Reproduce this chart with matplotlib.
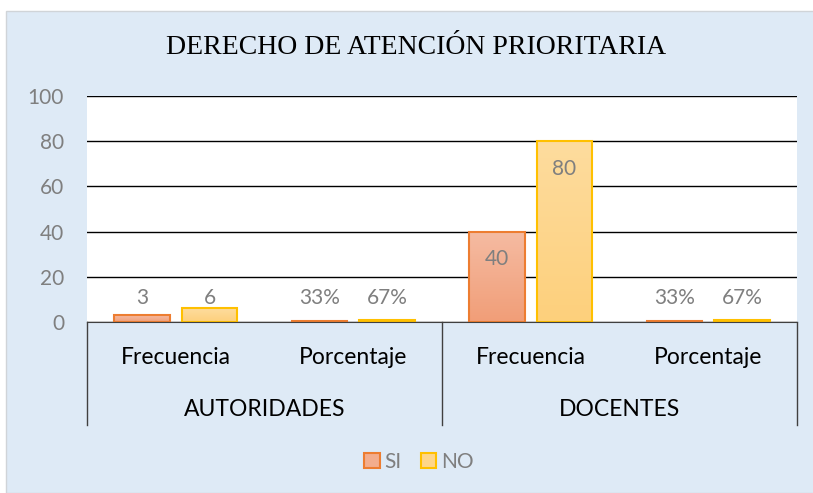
import numpy as np
import matplotlib.pyplot as plt
from matplotlib.patches import Rectangle, Patch
from matplotlib.colors import LinearSegmentedColormap

# datos
grupos = ["AUTORIDADES", "DOCENTES"]
subcats = ["Frecuencia", "Porcentaje", "Frecuencia", "Porcentaje"]
si_vals = [3, 0.33, 40, 0.33]
no_vals = [6, 0.67, 80, 0.67]
si_labels = ["3", "33%", "40", "33%"]
no_labels = ["6", "67%", "80", "67%"]
yticks = [0, 20, 40, 60, 80, 100]

bg = "#DEEAF6"
gris = "#7F7F7F"
fuente = "Lato"

fig = plt.figure(figsize=(8.13, 4.93), dpi=100)
fig.patch.set_facecolor("white")
fig.patches.append(Rectangle((6/813, 0), 1, 1 - 11/493, transform=fig.transFigure,
                             facecolor=bg, edgecolor="#D0D4D8", lw=1, zorder=-1))

ax = fig.add_axes([87/813, 1 - 322/493, 710/813, 226/493])
ax.set_facecolor("white")
x = np.arange(len(subcats))
w = 0.315
off = 0.19
b1 = ax.bar(x - off, si_vals, w, color="#F3AD8D", edgecolor="#ED7D31", lw=1.5, zorder=3)
b2 = ax.bar(x + off, no_vals, w, color="#FED68A", edgecolor="#FFC000", lw=1.5, zorder=3)

# degradado vertical dentro de las barras
grad = np.linspace(0, 1, 64).reshape(-1, 1)
cm_si = LinearSegmentedColormap.from_list("si", ["#F19E78", "#F5BBA2"])
cm_no = LinearSegmentedColormap.from_list("no", ["#FDD07C", "#FEDC9E"])
for bars, cmap in [(b1, cm_si), (b2, cm_no)]:
    for r in bars:
        x0, y0 = r.get_x(), r.get_y()
        im = ax.imshow(grad, cmap=cmap, aspect="auto", origin="lower", zorder=3.5,
                       extent=[x0, x0 + r.get_width(), y0, y0 + r.get_height()])
        im.set_clip_path(r)
        r.set_facecolor("none")
        r.set_zorder(4)
ax.set_xlim(-0.5, 3.5)
ax.set_ylim(0, 100)

ax.set_yticks(yticks)
ax.yaxis.grid(True, color="black", lw=1)
ax.set_axisbelow(True)
for s in ["top", "right", "left"]:
    ax.spines[s].set_visible(False)
ax.spines["bottom"].set_color("#404040")
ax.spines["bottom"].set_zorder(5)
ax.tick_params(axis="y", length=0, pad=16.5, labelsize=15, labelcolor=gris)
ax.tick_params(axis="x", length=0, labelbottom=False)
for t in ax.get_yticklabels():
    t.set_fontfamily(fuente)

# etiquetas de datos
for bars, labs in [(b1, si_labels), (b2, no_labels)]:
    for r, lab in zip(bars, labs):
        h = r.get_height()
        cx = r.get_x() + r.get_width() / 2
        if h > 20:
            ax.annotate(lab, (cx, h), xytext=(0, -20), textcoords="offset points",
                        ha="center", va="center", fontsize=15, color=gris, family=fuente, zorder=6)
        else:
            ax.annotate(lab, (cx, 0), xytext=(0, 17), textcoords="offset points",
                        ha="center", va="center", fontsize=15, color=gris, family=fuente, zorder=6)

# eje de categorias en dos niveles
tr = ax.transAxes
for xv in [0, 0.5, 1]:
    ax.plot([xv, xv], [0, -103/226], transform=tr, color="#404040", lw=1, clip_on=False)
for i, s in enumerate(subcats):
    ax.text(i, -35/226, s, transform=ax.get_xaxis_transform(), ha="center", va="center",
            fontsize=16.5, family=fuente, color="black")
for j, g in enumerate(grupos):
    ax.text(0.25 + 0.5 * j, -87/226, g, transform=tr, ha="center", va="center",
            fontsize=16.5, family=fuente, color="black")

fig.text(416/813, 1 - 48/493, "DERECHO DE ATENCIÓN PRIORITARIA", ha="center", va="center",
         fontsize=20, family="Liberation Serif", color="black")

handles = [Patch(facecolor="#F3AD8D", edgecolor="#ED7D31", lw=1.5, label="SI"),
           Patch(facecolor="#FED68A", edgecolor="#FFC000", lw=1.5, label="NO")]
leg = fig.legend(handles=handles, loc="center", bbox_to_anchor=(419/813, 1 - 462/493), ncol=2,
                 frameon=False, handlelength=0.75, handleheight=0.75,
                 handletextpad=0.25, columnspacing=0.9, labelcolor=gris,
                 prop={"family": fuente, "size": 15})

fig.savefig("out.png", dpi=100, facecolor=fig.get_facecolor())
